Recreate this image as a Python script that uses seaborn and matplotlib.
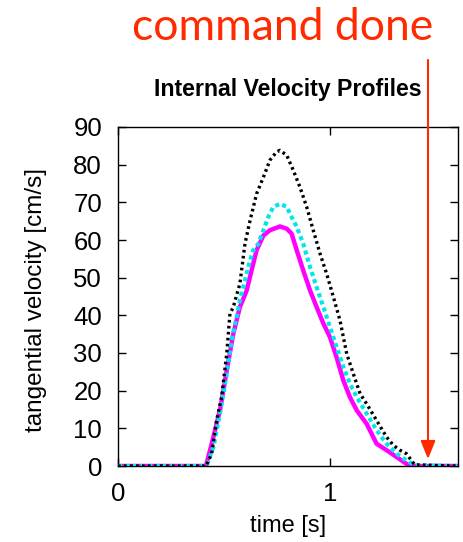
import matplotlib
matplotlib.use("Agg")
import matplotlib.pyplot as plt
import seaborn as sns
import pandas as pd

# ---- data ----
t_black = [0.0, 0.415, 0.442, 0.465, 0.489, 0.513, 0.528, 0.544, 0.575, 0.599, 0.623, 0.654,
           0.686, 0.717, 0.748, 0.764, 0.796, 0.827, 0.858, 0.890, 0.921, 0.953, 0.984,
           1.016, 1.047, 1.079, 1.110, 1.142, 1.173, 1.220, 1.267, 1.299, 1.330, 1.360,
           1.400, 1.600]
v_black = [0.0, 0.0, 3.3, 12.1, 18.3, 29.8, 40.4, 42.2, 48.4, 59.0, 65.2, 72.3,
           76.7, 81.2, 83.4, 83.8, 82.5, 78.5, 74.1, 68.8, 62.6, 56.4, 51.1,
           44.9, 38.7, 29.8, 24.5, 19.2, 16.5, 12.1, 7.7, 5.5, 4.2, 3.3,
           0.3, 0.0]

t_cyan = [0.0, 0.418, 0.450, 0.481, 0.513, 0.536, 0.560, 0.575, 0.599, 0.623, 0.638, 0.662,
          0.686, 0.709, 0.733, 0.764, 0.796, 0.819, 0.843, 0.874, 0.906, 0.937, 0.969,
          1.000, 1.031, 1.063, 1.094, 1.126, 1.173, 1.220, 1.267, 1.314, 1.360, 1.400, 1.600]
v_cyan = [0.0, 0.0, 5.0, 13.9, 24.5, 33.4, 39.6, 44.0, 49.3, 54.6, 57.3, 59.0,
          62.6, 66.1, 68.8, 69.6, 68.8, 66.1, 63.5, 59.0, 52.8, 47.5, 42.2,
          36.9, 31.6, 26.3, 21.9, 18.3, 13.9, 9.5, 5.9, 3.3, 1.5, 0.2, 0.0]

t_mag = [0.0, 0.415, 0.442, 0.481, 0.513, 0.544, 0.575, 0.607, 0.630, 0.654, 0.686, 0.717,
         0.764, 0.796, 0.819, 0.843, 0.874, 0.906, 0.937, 0.969, 1.000, 1.031, 1.063,
         1.094, 1.126, 1.173, 1.220, 1.267, 1.314, 1.360, 1.390, 1.600]
v_mag = [0.0, 0.0, 5.9, 14.8, 25.4, 35.1, 42.2, 46.6, 51.9, 57.3, 61.2, 62.6,
         63.6, 63.0, 61.7, 57.3, 51.9, 46.6, 42.2, 37.8, 34.2, 28.9, 22.7,
         18.3, 14.8, 11.2, 5.9, 4.2, 2.4, 0.6, 0.0, 0.0]

x_ticks = [0, 1]
y_ticks = [0, 10, 20, 30, 40, 50, 60, 70, 80, 90]

sns.set_style("ticks")
plt.rcParams["font.family"] = ["Liberation Sans", "DejaVu Sans"]
plt.rcParams["xtick.direction"] = "in"
plt.rcParams["ytick.direction"] = "in"
plt.rcParams["text.color"] = "black"
plt.rcParams["axes.labelcolor"] = "black"
plt.rcParams["xtick.color"] = "black"
plt.rcParams["ytick.color"] = "black"

fig = plt.figure(figsize=(4.64, 5.42), dpi=100)
ax = fig.add_axes([118/464, 1-466/542, 340/464, 339/542])

sns.lineplot(x=t_mag, y=v_mag, ax=ax, color="#ff00ff", lw=3.2, linestyle="-", zorder=2)
sns.lineplot(x=t_cyan, y=v_cyan, ax=ax, color="#00e5ee", lw=3.0, linestyle=(0, (1, 0.8)), zorder=3)
sns.lineplot(x=t_black, y=v_black, ax=ax, color="black", lw=2.4, linestyle=(0, (0.8, 1.0)), zorder=4)

ax.set_xlim(0, 1.604)
ax.set_ylim(0, 90)
ax.set_xticks(x_ticks)
ax.set_yticks(y_ticks)
ax.tick_params(axis="both", which="major", labelsize=18.5, length=6, width=1,
               top=True, right=True, pad=11.5)
for s in ax.spines.values():
    s.set_linewidth(1.0)
    s.set_color("black")

ax.set_xlabel("time [s]", fontsize=17)
ax.set_ylabel("tangential velocity [cm/s]", fontsize=17.5)
ax.xaxis.set_label_coords(0.5, -0.146)
ax.yaxis.set_label_coords(-0.21, 0.49)
ax.set_title("Internal Velocity Profiles", fontsize=16.7, fontweight="bold", pad=22, color="black")

# annotation: command done
fig.text(283/464, 1-28/542, "command done", color="#ff2a00", fontsize=32,
         family=["Lato", "DejaVu Sans"], ha="center", va="center")
ax.annotate("", xy=(428/464, 1-459/542), xycoords="figure fraction",
            xytext=(428/464, 1-60/542), textcoords="figure fraction",
            arrowprops=dict(arrowstyle="-|>,head_length=1.1,head_width=0.45",
                            color="#ff2a00", lw=1.5, shrinkA=0, shrinkB=0),
            annotation_clip=False, zorder=10)

fig.savefig("out.png", dpi=100)
